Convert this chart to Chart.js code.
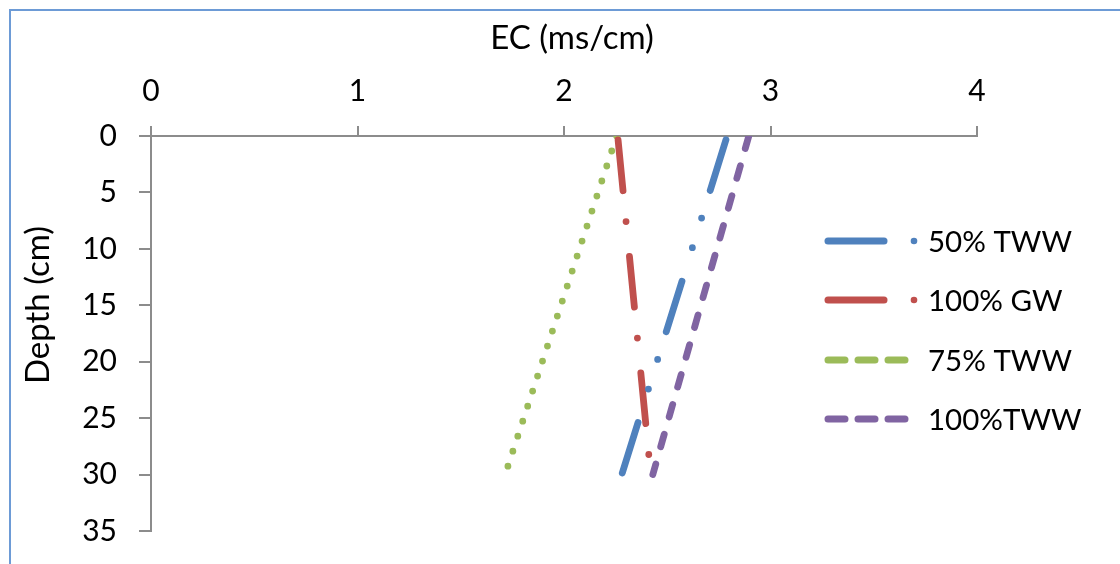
<!DOCTYPE html>
<html>
<head>
<meta charset="utf-8">
<script src="https://cdn.jsdelivr.net/npm/chart.js@4/dist/chart.umd.min.js"></script>
<style>
  html, body { margin: 0; padding: 0; background: #fff; }
  canvas { display: block; }
</style>
</head>
<body>
<canvas id="c" width="1120" height="564"></canvas>
<script>
// ---- data ----
const depthCm   = [0, 30];
const tww50     = [2.79, 2.28];
const gw100     = [2.26, 2.42];
const tww75     = [2.255, 1.715];
const tww100    = [2.895, 2.43];
const seriesNames = ['50% TWW', '100% GW', '75% TWW', '100%TWW'];
const xTitle = 'EC (ms/cm)';
const yTitle = 'Depth (cm)';
const xMin = 0, xMax = 4, xStep = 1;
const yMin = 0, yMax = 35, yStep = 5;

const FONT = 'Lato';
const TICK_FS = 30;
const TITLE_FS = 33;
const LEG_FS = 29.5;
const colors = ['#4F81BD', '#C0504D', '#9BBB59', '#8064A2'];
const dashes = [
  [53, 29, 0, 31, 0, 35],
  [51, 31, 0, 35],
  [0, 15.8],
  [13, 18]
];
const dashOffsets = [-4, -4, 0, 0];
const values = [tww50, gw100, tww75, tww100];

const datasets = values.map((vals, k) => ({
  label: seriesNames[k],
  data: depthCm.map((d, i) => ({ x: vals[i], y: d })),
  borderColor: colors[k],
  backgroundColor: colors[k],
  borderWidth: 6.8,
  borderDash: dashes[k],
  borderDashOffset: dashOffsets[k],
  borderCapStyle: 'round',
  borderJoinStyle: 'round',
  pointRadius: 0,
  fill: false,
  tension: 0
}));

const axisGrey = '#8c8c8c';

const decor = {
  id: 'decor',
  beforeDraw(chart) {
    const ctx = chart.ctx;
    ctx.save();
    ctx.fillStyle = '#fff';
    ctx.fillRect(0, 0, chart.width, chart.height);
    ctx.strokeStyle = '#6d9bd6';
    ctx.lineWidth = 2;
    ctx.beginPath();
    ctx.moveTo(10, 600);
    ctx.lineTo(10, 10);
    ctx.lineTo(1130, 10);
    ctx.stroke();
    ctx.restore();
  },
  afterDraw(chart) {
    const ctx = chart.ctx;
    ctx.save();
    ctx.fillStyle = '#000';
    ctx.font = TITLE_FS + 'px ' + FONT;
    ctx.textAlign = 'center';
    ctx.textBaseline = 'alphabetic';
    ctx.fillText(xTitle, 572, 49);
    ctx.save();
    ctx.translate(49, 305);
    ctx.rotate(-Math.PI / 2);
    ctx.fillText(yTitle, 0, 0);
    ctx.restore();

    // legend
    ctx.font = LEG_FS + 'px ' + FONT;
    const ys = [241, 300, 360, 419];
    for (let k = 0; k < 4; k++) {
      const y = ys[k];
      ctx.strokeStyle = colors[k];
      ctx.fillStyle = colors[k];
      ctx.lineWidth = 7;
      ctx.lineCap = 'round';
      if (k < 2) {
        ctx.setLineDash([]);
        ctx.beginPath();
        ctx.moveTo(828, y);
        ctx.lineTo(884, y);
        ctx.stroke();
        ctx.beginPath();
        ctx.arc(914, y, 3.3, 0, Math.PI * 2);
        ctx.fill();
      } else {
        ctx.setLineDash([17, 13]);
        ctx.beginPath();
        ctx.moveTo(828, y);
        ctx.lineTo(907, y);
        ctx.stroke();
        ctx.setLineDash([]);
      }
      ctx.fillStyle = '#000';
      ctx.textAlign = 'left';
      ctx.textBaseline = 'middle';
      ctx.fillText(seriesNames[k], 928, y + 1);
    }
    ctx.restore();
  }
};

new Chart(document.getElementById('c'), {
  type: 'line',
  data: { datasets },
  plugins: [decor],
  options: {
    responsive: false,
    animation: false,
    events: [],
    layout: { padding: { left: 0, top: 0, right: 143, bottom: 33 } },
    plugins: { legend: { display: false }, tooltip: { enabled: false } },
    scales: {
      x: {
        type: 'linear',
        position: 'top',
        min: xMin, max: xMax,
        ticks: { stepSize: xStep, color: '#000', font: { family: FONT, size: TICK_FS }, padding: 17, maxRotation: 0 },
        grid: { drawOnChartArea: false, drawTicks: true, tickLength: 10, color: axisGrey, lineWidth: 2 },
        border: { display: true, color: axisGrey, width: 2 },
        afterFit(s) { s.height = 136; s.paddingLeft = 0; s.paddingRight = 0; }
      },
      y: {
        type: 'linear',
        reverse: true,
        min: yMin, max: yMax,
        ticks: { stepSize: yStep, color: '#000', font: { family: FONT, size: TICK_FS }, padding: 22 },
        grid: { drawOnChartArea: false, drawTicks: true, tickLength: 12, color: axisGrey, lineWidth: 2 },
        border: { display: true, color: axisGrey, width: 2 },
        afterFit(s) { s.width = 151; s.paddingTop = 0; s.paddingBottom = 0; }
      }
    }
  }
});
</script>
</body>
</html>
